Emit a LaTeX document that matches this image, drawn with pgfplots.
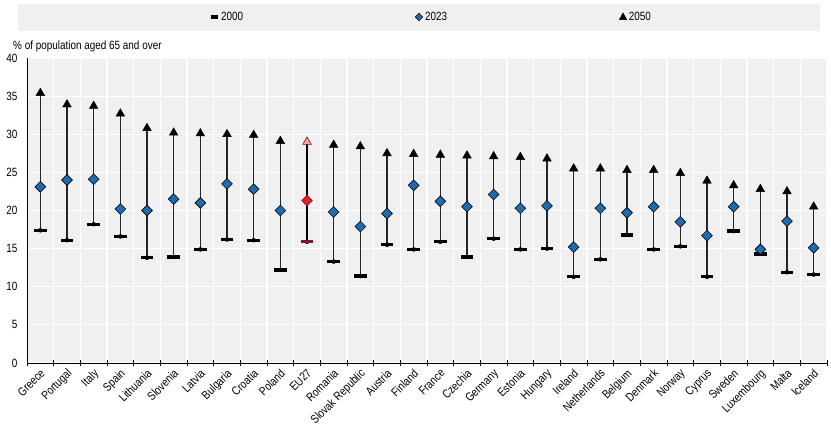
\documentclass[border=0pt]{standalone}
\usepackage{pgfplots}
\pgfplotsset{compat=1.18}
\usepackage{pgfplotstable}
\usepackage{fontspec}
\setmainfont{Liberation Sans}[FakeStretch=0.83]
\definecolor{oblue}{RGB}{31,107,177}
\definecolor{ored}{RGB}{227,32,42}
\definecolor{odred}{RGB}{125,25,40}
\definecolor{opink}{RGB}{242,160,165}
\definecolor{bggray}{RGB}{240,240,240}

\pgfplotstableread{
x y2000 y2023 y2050
0 17.4 23.1 35.4
1 16.1 24.0 33.9
2 18.2 24.1 33.7
3 16.6 20.2 32.7
4 13.8 20.0 30.8
5 13.9 21.5 30.2
6 14.9 21.0 30.1
7 16.2 23.5 30.0
8 16.1 22.8 29.9
9 12.2 20.0 29.1
11 13.3 19.8 28.6
12 11.4 17.9 28.4
13 15.5 19.6 27.5
14 14.9 23.3 27.4
15 15.9 21.2 27.3
16 13.9 20.5 27.2
17 16.3 22.1 27.1
18 14.9 20.3 27.0
19 15.0 20.6 26.8
20 11.3 15.2 25.5
21 13.6 20.3 25.5
22 16.8 19.7 25.3
23 14.9 20.5 25.3
24 15.3 18.5 24.9
25 11.3 16.7 23.9
26 17.3 20.5 23.3
27 14.3 14.9 22.8
28 11.9 18.6 22.5
29 11.6 15.1 20.5
}\data

\pgfplotstableread{
x y2000 y2023 y2050
10 15.9 21.3 29.0
}\eu

\begin{document}
\begin{tikzpicture}
\useasboundingbox (-27bp,-63bp) rectangle (804bp,363bp);
\fill[bggray] (-9bp,332bp) rectangle (793bp,359bp);
\begin{axis}[
  at={(0,0)}, anchor=south west,
  scale only axis, width=800bp, height=305bp,
  xmin=-0.5, xmax=29.5, ymin=0, ymax=40,
  axis background/.style={fill=bggray},
  axis x line*=bottom, axis y line*=left,
  axis line style={black, line width=0.8bp},
  xtick={0,...,29},
  xticklabels={Greece,Portugal,Italy,Spain,Lithuania,Slovenia,Latvia,Bulgaria,Croatia,Poland,EU27,Romania,Slovak Republic,Austria,Finland,France,Czechia,Germany,Estonia,Hungary,Ireland,Netherlands,Belgium,Denmark,Norway,Cyprus,Sweden,Luxembourg,Malta,Iceland},
  minor xtick={-0.5,0.5,...,29.5},
  ytick={0,5,...,40},
  /pgf/number format/assume math mode=true,
  ymajorgrids, xminorgrids,
  major grid style={white, line width=1.2bp},
  minor grid style={white, line width=1.2bp},
  major tick length=0pt,
  minor tick length=6bp,
  tick align=center,
  minor tick style={black, line width=0.6bp},
  xticklabel style={rotate=45, anchor=north east, inner sep=0bp, xshift=-4bp, yshift=-3bp, font=\fontsize{12}{13}\selectfont},
  yticklabel style={font=\fontsize{12}{13}\selectfont, xshift=-6bp},
  legend style={at={(axis description cs:0.505,1)}, anchor=center, yshift=41bp, draw=none, fill=none,
    font=\fontsize{12}{13}\selectfont, legend columns=3,
    /tikz/every even column/.append style={column sep=170bp}},
  clip=false,
]
% vertical connector lines (2000 to 2050)
\addplot[only marks, mark=none, forget plot,
  error bars/.cd, y dir=plus, y explicit, error mark=none,
  error bar style={black!85, line width=1.2bp}]
  table[x=x, y=y2000, y error expr=\thisrow{y2050}-\thisrow{y2000}] {\data};
\addplot[only marks, mark=none, forget plot,
  error bars/.cd, y dir=plus, y explicit, error mark=none,
  error bar style={black, line width=1.2bp}]
  table[x=x, y=y2000, y error expr=\thisrow{y2050}-\thisrow{y2000}] {\eu};
% 2000
\addplot[only marks, mark=-, mark size=6.2bp, mark options={draw=black, line width=3.2bp},
  legend image code/.code={\draw[black, line width=3bp] (-3.5bp,0bp) -- (3.5bp,0bp);}]
  table[x=x, y=y2000] {\data};
\addlegendentry{2000}
\addplot[only marks, mark=-, mark size=6.2bp, mark options={draw=odred, line width=3.2bp}, forget plot]
  table[x=x, y=y2000] {\eu};
% 2023
\addplot[only marks, mark=square*, mark size=3.8bp, mark options={rotate=45, fill=oblue, draw=black, line width=0.6bp},
  legend image code/.code={\filldraw[fill=oblue, draw=black, line width=0.4bp] (0bp,3.8bp) -- (3.8bp,0bp) -- (0bp,-3.8bp) -- (-3.8bp,0bp) -- cycle;}]
  table[x=x, y=y2023] {\data};
\addlegendentry{2023}
\addplot[only marks, mark=square*, mark size=3.8bp, mark options={rotate=45, fill=ored, draw=odred, line width=0.6bp}, forget plot]
  table[x=x, y=y2023] {\eu};
% 2050
\addplot[only marks, mark=triangle*, mark size=5bp, mark options={fill=black, draw=black},
  legend image code/.code={\fill[black] (0bp,4.2bp) -- (3.7bp,-2.6bp) -- (-3.7bp,-2.6bp) -- cycle;}]
  table[x=x, y=y2050] {\data};
\addlegendentry{2050}
\addplot[only marks, mark=triangle*, mark size=5bp, mark options={fill=opink, draw=odred, line width=0.6bp}, forget plot]
  table[x=x, y=y2050] {\eu};
\end{axis}
\node[anchor=west, inner sep=0bp, font=\fontsize{12}{13}\selectfont] at (-14bp,317bp) {\% of population aged 65 and over};
\end{tikzpicture}
\end{document}
